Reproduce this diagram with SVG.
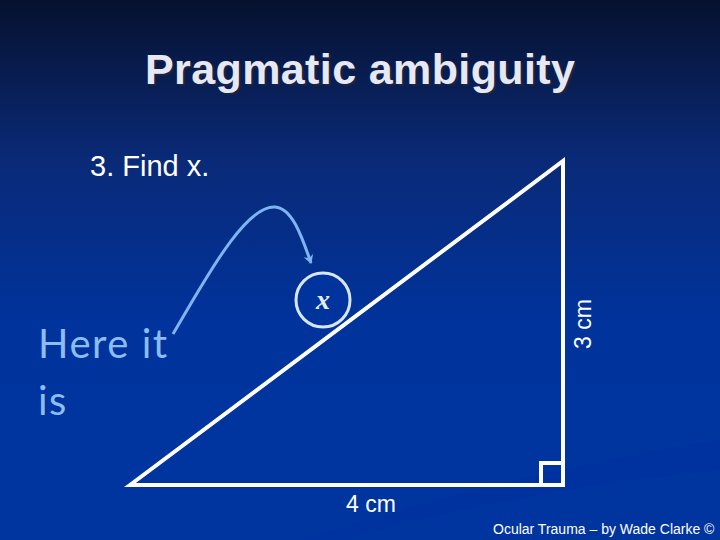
<svg xmlns="http://www.w3.org/2000/svg" width="720" height="540" viewBox="0 0 720 540">
<defs>
<linearGradient id="bg" x1="0" y1="0" x2="0" y2="1">
<stop offset="0" stop-color="#06112e"/>
<stop offset="0.3" stop-color="#0a2a78"/>
<stop offset="0.6" stop-color="#00339c"/>
<stop offset="1" stop-color="#0035a0"/>
</linearGradient>
<marker id="ah" markerWidth="10" markerHeight="10" refX="8" refY="5" orient="auto" markerUnits="userSpaceOnUse">
<path d="M0,0 L9,5 L0,10 L3,5 Z" fill="#7fb4f2"/>
</marker>
<style>
.w{fill:#ffffff;font-family:"Liberation Sans",Arial,sans-serif}
.ln{stroke:#ffffff;stroke-width:4;fill:none}
.here{font-family:Lato,"Open Sans",sans-serif;font-size:40px;fill:#8cbcf2;letter-spacing:1.5px}
</style>
</defs>
<rect width="720" height="540" fill="url(#bg)"/>
<path d="M300,540 Q520,470 720,440 L720,470 Q520,490 340,540 Z" fill="#0030a0" opacity="0.4"/>
<text x="362" y="86" text-anchor="middle" font-family="'Liberation Sans',Arial,sans-serif" font-weight="bold" font-size="43" fill="#1b2340" textLength="430">Pragmatic ambiguity</text>
<text x="360" y="84" text-anchor="middle" font-family="'Liberation Sans',Arial,sans-serif" font-weight="bold" font-size="43" fill="#e6e8f6" textLength="430">Pragmatic ambiguity</text>
<text class="w" x="90" y="176" font-size="29">3. Find x.</text>
<g id="triangle">
<polygon points="130,485 563,161 563,485" class="ln" stroke-linejoin="miter"/>
<rect x="541" y="463" width="22" height="22" class="ln" stroke-width="3"/>
</g>
<g id="x-label">
<circle cx="323" cy="300" r="27" fill="#00339c" stroke="#d8e6fa" stroke-width="3"/>
<text x="323" y="309" text-anchor="middle" font-family="'Liberation Serif','Times New Roman',serif" font-style="italic" font-weight="bold" font-size="28" fill="#e8eef8">x</text>
</g>
<g id="here">
<text class="here" x="38" y="358">Here it</text>
<text class="here" x="38" y="415">is</text>
</g>
<g id="connectors">
<path d="M173,334 C205,280 245,205 275,207 C293,208 303,240 311,263" stroke="#7fb4f2" stroke-width="3" fill="none" marker-end="url(#ah)"/>
</g>
<text class="w" x="0" y="0" font-size="23" text-anchor="middle" transform="translate(591,324) rotate(-90)">3 cm</text>
<text class="w" x="371" y="512" font-size="23" text-anchor="middle">4 cm</text>
<text class="w" x="493" y="534" font-size="14">Ocular Trauma – by Wade Clarke ©</text>
<text class="w" x="493" y="550" font-size="14">2008</text>
</svg>
